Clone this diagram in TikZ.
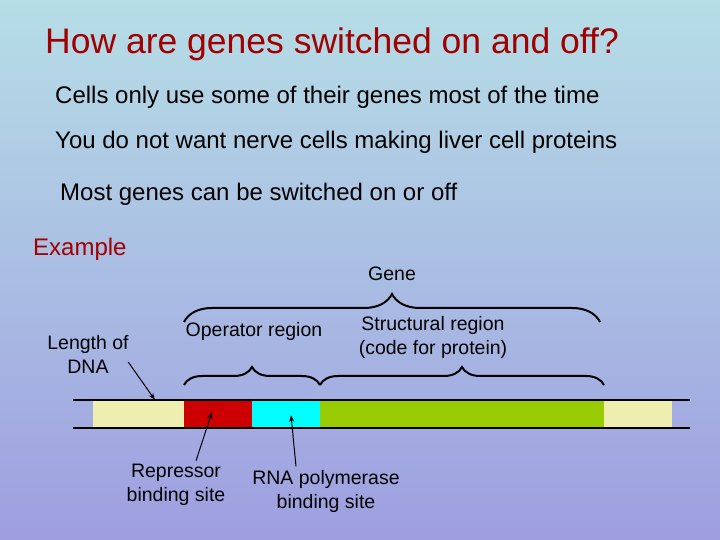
\documentclass[tikz,border=0pt]{standalone}
\usepackage{fontspec}
\setmainfont{Liberation Sans}
\usetikzlibrary{decorations.pathreplacing,arrows.meta}
\definecolor{titlered}{HTML}{A00000}
\definecolor{topbg}{HTML}{B6DEE6}
\definecolor{botbg}{HTML}{9E9EE0}
\definecolor{creambox}{HTML}{EEEEB0}
\definecolor{redbox}{HTML}{CC0000}
\definecolor{cyanbox}{HTML}{00FFFF}
\definecolor{greenbox}{HTML}{99CC00}
\tikzset{
  body/.style={anchor=base west, inner sep=0pt, font=\fontsize{24}{28}\selectfont},
  label/.style={align=center, font=\fontsize{19.5}{24}\selectfont},
  seg/.style={draw=black, line width=0.8pt},
  gbrace/.style={draw, line width=2pt, decorate, decoration={brace, amplitude=#1}},
  pointer/.style={-{Stealth[length=7pt,width=5pt]}, line width=1pt}
}
\begin{document}
\begin{tikzpicture}[x=1pt,y=1pt]
    \shade[top color=topbg, bottom color=botbg] (0,0) rectangle (720,540);
    \useasboundingbox (0,0) rectangle (720,540);

    % text lines
    \node[body, text=titlered, font=\fontsize{35.5}{40}\selectfont] (title) at (45,486) {How are genes switched on and off?};
    \node[body] (cells) at (55,436) {Cells only use some of their genes most of the time};
    \node[body] (nerve) at (55,391) {You do not want nerve cells making liver cell proteins};
    \node[body] (most) at (60,339) {Most genes can be switched on or off};
    \node[body, text=titlered] (example) at (33,284) {Example};

    % DNA strand
    \fill[creambox] (93,112) rectangle (184,139);
    \fill[seg, redbox] (184,112) rectangle (252,139);
    \fill[seg, cyanbox] (252,112) rectangle (320,139);
    \fill[seg, greenbox] (320,112) rectangle (604,139);
    \fill[creambox] (604,112) rectangle (672,139);
    \draw[line width=2pt] (73,140) -- (690,140);
    \draw[line width=2pt] (73,112) -- (690,112);
    \coordinate (dnatip) at (155,140);
    \coordinate (redtip) at (212,128);
    \coordinate (cyantip) at (291,125);

    % braces
    \draw[gbrace=18pt] (184,155) -- (320,155);
    \draw[gbrace=18pt] (320,155) -- (604,155);
    \draw[gbrace=28pt] (184,218) -- (600,218);

    % labels
    \node[label] (gene) at (392,266) {Gene};
    \node[label] (dna) at (88,186) {Length of\\DNA};
    \node[label] (operator) at (254,209) {Operator region};
    \node[label] (structural) at (433,203) {Structural region\\(code for protein)};
    \node[label] (repressor) at (176,55) {Repressor\\binding site};
    \node[label] (rnapol) at (326,49) {RNA polymerase\\binding site};

    \draw[pointer] (dna.east) ++(-4,-8) -- (dnatip);
    \draw[pointer] (repressor.north) ++(20,0) -- (redtip);
    \draw[pointer] (rnapol.north) ++(-30,0) -- (cyantip);
\end{tikzpicture}
\end{document}
